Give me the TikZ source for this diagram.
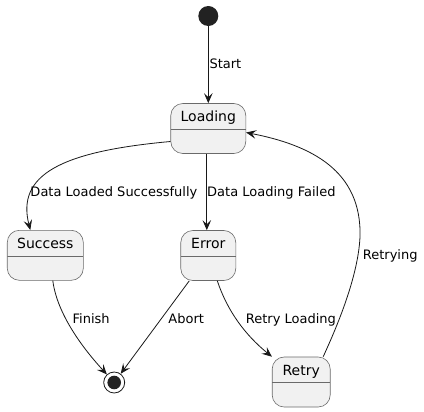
\documentclass[tikz,border=0pt]{standalone}
\usepackage{fontspec}
\setmainfont{DejaVu Sans}
\usepackage{tikz}
\usetikzlibrary{arrows.meta}

\definecolor{statefill}{HTML}{F1F1F1}
\definecolor{linec}{HTML}{181818}
\definecolor{borderc}{HTML}{6A6A6A}
\definecolor{dotc}{HTML}{222222}
\newcommand{\statefont}{\fontsize{14bp}{16bp}\selectfont}
\newcommand{\lblfont}{\fontsize{13bp}{15bp}\selectfont}

\begin{document}
\begin{tikzpicture}[x=1bp, y=-1bp]
                \tikzset{state/.style={draw=borderc, fill=statefill, line width=0.6bp, rounded corners=12bp,
                    minimum height=50bp, inner xsep=0pt, inner ysep=6bp, text height=12bp, text depth=26bp, font=\statefont,
                    path picture={\draw [borderc, line width=0.6bp] ([yshift=-25.5bp]path picture bounding box.north west) -- ([yshift=-25.5bp]path picture bounding box.north east);}},
                  trans/.style={draw=linec, line width=0.8bp, -{Stealth[length=10bp, width=8.5bp, inset=4bp]}},
                  lbl/.style={anchor=base west, inner sep=0pt, font=\lblfont}}
                \useasboundingbox (0,0) rectangle (424,412);
                % states
                \node [circle, fill=dotc, minimum size=20bp, inner sep=0pt] (init) at (208.3,16) {};
                \node [state, minimum width=75bp] (load) at (208.3,128.5) {Loading};
                \node [state, minimum width=76bp] (succ) at (45.3,255.3) {Success};
                \node [state, minimum width=55bp] (err) at (208.3,255.5) {Error};
                \node [state, minimum width=58bp] (retry) at (301.2,382) {Retry};
                \node [circle, draw=linec, line width=0.8bp, fill=white, minimum size=21bp, inner sep=0pt] (fin) at (114.2,382.5) {};
                \fill [dotc] (fin.center) circle (6.8bp);
                % transitions
                \draw [trans] (init) -- (init |- load.north);
                \node [lbl] (lstart) at (209.3,68.5) {Start};
                \draw [trans] ([yshift=-13bp]load.west) .. controls +(-110,10) and +(-14,-55) .. ([xshift=-15bp]succ.north);
                \node [lbl] (lsucc) at (30.3,196.5) {Data Loaded Successfully};
                \draw [trans] ([xshift=-1.5bp]load.south) -- ([xshift=-1.5bp]err.north);
                \node [lbl] (lfail) at (207,196.5) {Data Loading Failed};
                \draw [trans] ([xshift=7.5bp]succ.south) .. controls +(5,40) and +(-20,-22) .. (fin);
                \node [lbl] (lfinish) at (72.5,323) {Finish};
                \draw [trans] ([xshift=-19bp]err.south) -- (fin);
                \node [lbl] (labort) at (168.3,323) {Abort};
                \draw [trans] ([xshift=9bp]err.south) .. controls +(10,30) and +(-27,-22) .. (retry.north west);
                \node [lbl] (lretry) at (245.7,323) {Retry Loading};
                \coordinate (bend) at (360,237);
                \draw [trans] ([xshift=22bp]retry.north) .. controls +(10,-22) and +(-2,43) .. (bend)
                    .. controls +(2,-67) and +(64,12.5) .. ([yshift=-4bp]load.east);
                \node [lbl] (lretrying) at (362.7,259.3) {Retrying};
\end{tikzpicture}
\end{document}
